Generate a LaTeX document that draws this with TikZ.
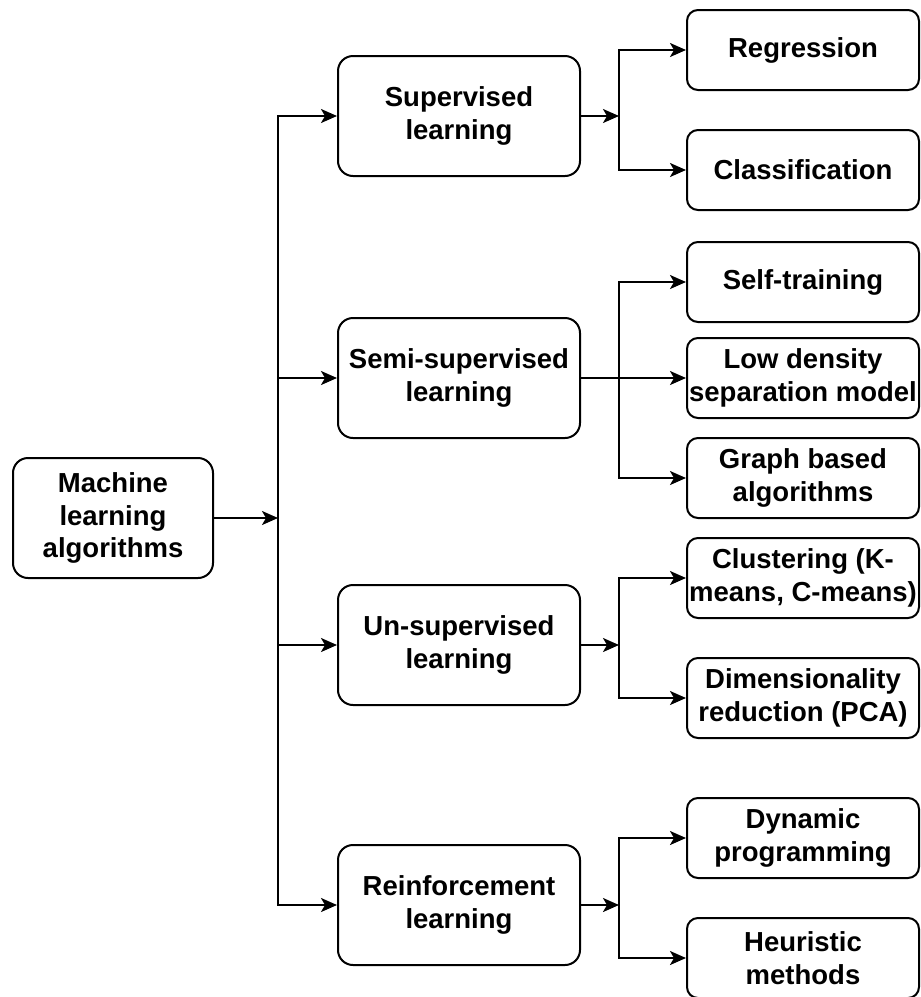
\documentclass[tikz,border=0pt]{standalone}
\usepackage{fontspec}
\setmainfont{Liberation Sans}
\usetikzlibrary{arrows.meta}
\begin{document}
\begin{tikzpicture}[x=1pt,y=-1pt,
  box/.style={draw=black, line width=2pt, rounded corners=15pt, align=center,
    inner sep=0pt, font=\fontsize{27.5}{32.5}\selectfont\bfseries},
  rootbox/.style={box, minimum width=200pt, minimum height=120pt},
  midbox/.style={box, minimum width=242pt, minimum height=120pt},
  leafbox/.style={box, rounded corners=11pt, minimum width=232pt, minimum height=80pt},
  arr/.style={line width=2pt, -{Stealth[length=16pt,width=14pt,inset=4pt]}}]
\useasboundingbox (0,0) rectangle (921,997);

% root
\node[rootbox] (root) at (113,518) {Machine\\learning\\algorithms};

% learning paradigms
\node[midbox] (sup)   at (459,116) {Supervised\\learning};
\node[midbox] (semi)  at (459,378) {Semi-supervised\\learning};
\node[midbox] (unsup) at (459,645) {Un-supervised\\learning};
\node[midbox] (rein)  at (459,905) {Reinforcement\\learning};

% methods
\node[leafbox] (reg)   at (803,50)  {Regression};
\node[leafbox] (cls)   at (803,170) {Classification};
\node[leafbox] (self)  at (803,282) {Self-training};
\node[leafbox] (low)   at (803,378) {Low density\\separation model};
\node[leafbox] (graph) at (803,478) {Graph based\\algorithms};
\node[leafbox] (clus)  at (803,578) {Clustering (K-\\means, C-means)};
\node[leafbox] (dim)   at (803,698) {Dimensionality\\reduction (PCA)};
\node[leafbox] (dyn)   at (803,838) {Dynamic\\programming};
\node[leafbox] (heur)  at (803,958) {Heuristic\\methods};

% junction points
\coordinate (trunk) at (278,518);
\coordinate (b1) at (619,116);
\coordinate (b2) at (619,378);
\coordinate (b3) at (619,645);
\coordinate (b4) at (619,905);

% root to paradigms
\draw[arr] (root.east) -- (trunk);
\draw[arr] (trunk) |- (sup.west);
\draw[arr] (trunk) |- (semi.west);
\draw[arr] (trunk) |- (unsup.west);
\draw[arr] (trunk) |- (rein.west);

% supervised
\draw[arr] (sup.east) -- (b1);
\draw[arr] (b1) |- (reg.west);
\draw[arr] (b1) |- (cls.west);

% semi-supervised
\draw[arr] (semi.east) -- (low.west);
\draw[arr] (b2) |- (self.west);
\draw[arr] (b2) |- (graph.west);

% un-supervised
\draw[arr] (unsup.east) -- (b3);
\draw[arr] (b3) |- (clus.west);
\draw[arr] (b3) |- (dim.west);

% reinforcement
\draw[arr] (rein.east) -- (b4);
\draw[arr] (b4) |- (dyn.west);
\draw[arr] (b4) |- (heur.west);
\end{tikzpicture}
\end{document}
